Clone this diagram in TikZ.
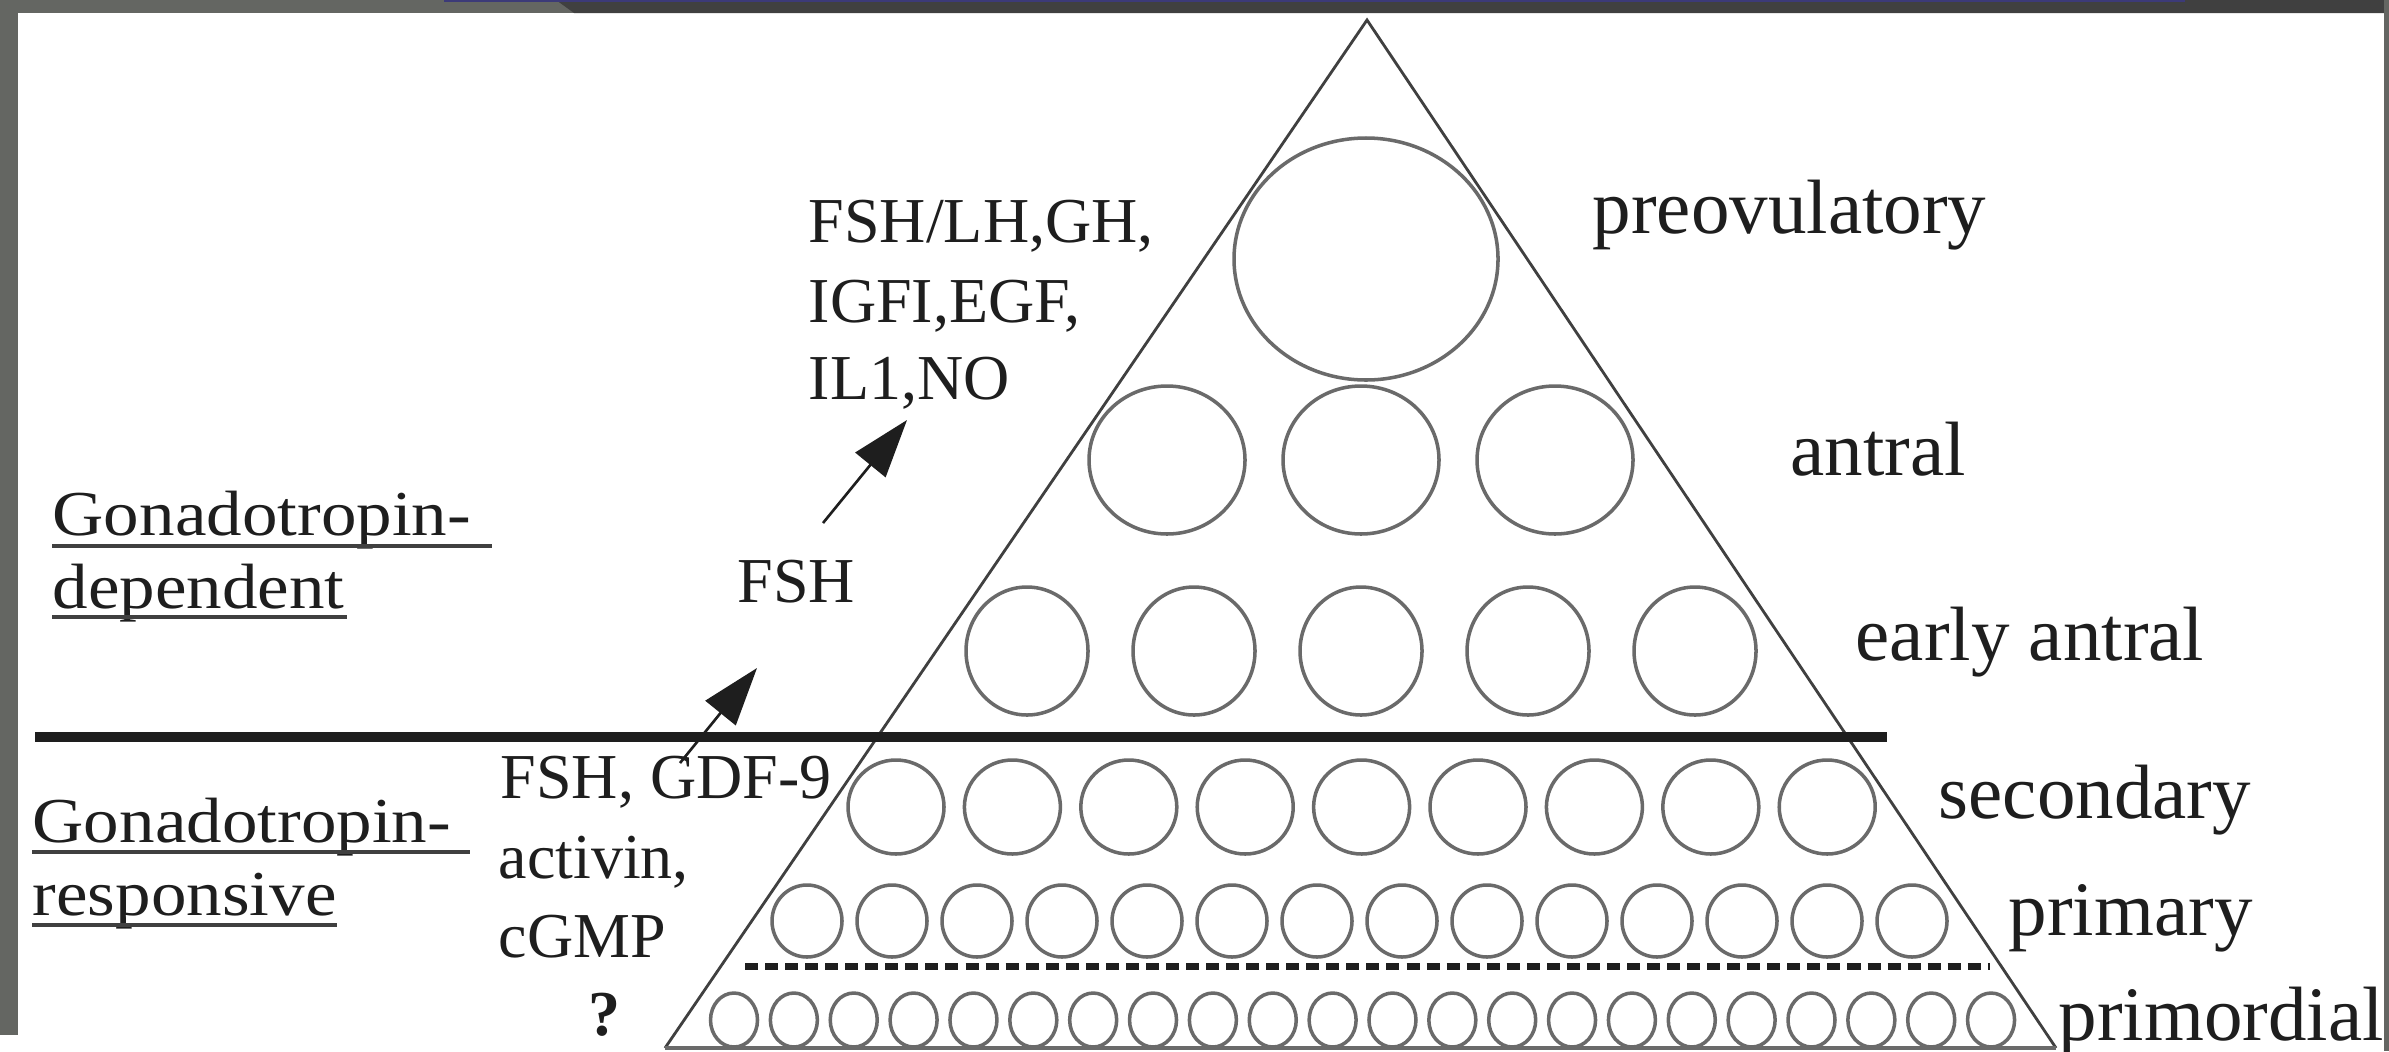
\documentclass[tikz,border=0pt]{standalone}
\usepackage{fontspec}
\setmainfont{Liberation Serif}
\usetikzlibrary{arrows.meta}
\definecolor{framegray}{HTML}{646662}
\definecolor{darkbar}{HTML}{404040}
\definecolor{navyline}{HTML}{3C3A78}
\definecolor{circgray}{HTML}{6A6A6A}
\definecolor{ink}{HTML}{1E1E1E}
\begin{document}
\begin{tikzpicture}[x=0.01cm,y=-0.01cm,
  fol/.style={draw=circgray, line width=1pt},
  tri/.style={draw=ink!85, line width=0.8pt},
  midtxt/.style={anchor=base west, inner sep=0, font=\fontsize{18.2}{22}\selectfont, text=ink},
  rtxt/.style={anchor=base west, inner sep=0, font=\fontsize{21.9}{26}\selectfont, text=ink},
  ltxt/.style={anchor=base west, inner sep=0, font=\fontsize{18.2}{22}\selectfont, text=ink},
  uline/.style={draw=ink!85, line width=1.1pt},
  arr/.style={-{Triangle[length=16.5pt,width=11pt]}, line width=0.75pt, draw=ink, fill=ink}
]
\useasboundingbox (0,0) rectangle (2389,1051);
\fill[white] (0,0) rectangle (2389,1051);
% frame
\fill[framegray] (0,0) rectangle (18,1035);
\fill[framegray] (0,0) rectangle (2389,13);
\fill[darkbar] (556,0) -- (574,13) -- (2389,13) -- (2389,0) -- cycle;
\fill[navyline] (444,0) rectangle (2185,2);
\fill[framegray] (2384,0) rectangle (2389,1051);

% pyramid
\coordinate (apex) at (1367,20);
\coordinate (bl) at (665,1048);
\coordinate (br) at (2056,1048);
\draw[tri] (bl) -- (apex) -- (br);
\draw[draw=circgray, line width=1.2pt] (bl) -- (br);

% dividing lines
\coordinate (tl1) at (35,737);
\coordinate (tl2) at (1887,737);
\draw[draw=ink, line width=3.1pt] (tl1) -- (tl2);
\coordinate (dl1) at (745,966);
\coordinate (dl2) at (1990,966);
\draw[draw=ink, line width=2pt, dash pattern=on 3.7pt off 2pt] (dl1) -- (dl2);

% follicles
\draw[fol] (1366,259) ellipse [x radius=132, y radius=121];
\foreach \x in {1167,1361,1555} \draw[fol] (\x,460) ellipse [x radius=78, y radius=74];
\foreach \x in {1027,1194,1361,1528,1695} \draw[fol] (\x,651) ellipse [x radius=61, y radius=64];
\foreach \i in {0,...,8} \draw[fol] ({896+116.4*\i},807) ellipse [x radius=48, y radius=47];
\foreach \i in {0,...,13} \draw[fol] ({807+85*\i},921) ellipse [x radius=35, y radius=36];
\foreach \i in {0,...,21} \draw[fol] ({734+59.86*\i},1020) ellipse [x radius=23.5, y radius=27];

% left labels
\node[ltxt] (gd1) at (52,535) {\scalebox{1.11}[1]{Gonadotropin-}};
\node[ltxt] (gd2) at (52,608) {\scalebox{1.11}[1]{dependent}};
\node[ltxt] (gr1) at (32,842) {\scalebox{1.11}[1]{Gonadotropin-}};
\node[ltxt] (gr2) at (32,915) {\scalebox{1.11}[1]{responsive}};
\draw[uline] (52,546) -- (492,546);
\draw[uline] (52,617) -- (347,617);
\draw[uline] (32,852) -- (470,852);
\draw[uline] (32,925) -- (337,925);

% middle labels
\node[midtxt] (f1) at (808,242) {FSH/LH,GH,};
\node[midtxt] (f2) at (808,322) {IGFI,EGF,};
\node[midtxt] (f3) at (808,399) {IL1,NO};
\node[midtxt] (fsh) at (737,602) {FSH};
\node[midtxt] (g1) at (500,798) {FSH, GDF-9};
\node[midtxt] (g2) at (498,878) {activin,};
\node[midtxt] (g3) at (498,957) {cGMP};
\node[midtxt] (q) at (588,1035) {\textbf{?}};

% arrows
\coordinate (a1s) at (823,523);
\coordinate (a1e) at (907,420);
\draw[arr] (a1s) -- (a1e);
\coordinate (a2s) at (680,763);
\coordinate (a2e) at (757,668);
\draw[arr] (a2s) -- (a2e);

% right labels
\node[rtxt] (pre) at (1592,233) {preovulatory};
\node[rtxt] (ant) at (1790,475) {antral};
\node[rtxt] (ea) at (1855,660) {early antral};
\node[rtxt] (sec) at (1938,818) {secondary};
\node[rtxt] (pri) at (2008,935) {primary};
\node[rtxt] (prim) at (2058,1040) {primordial};
\end{tikzpicture}
\end{document}
